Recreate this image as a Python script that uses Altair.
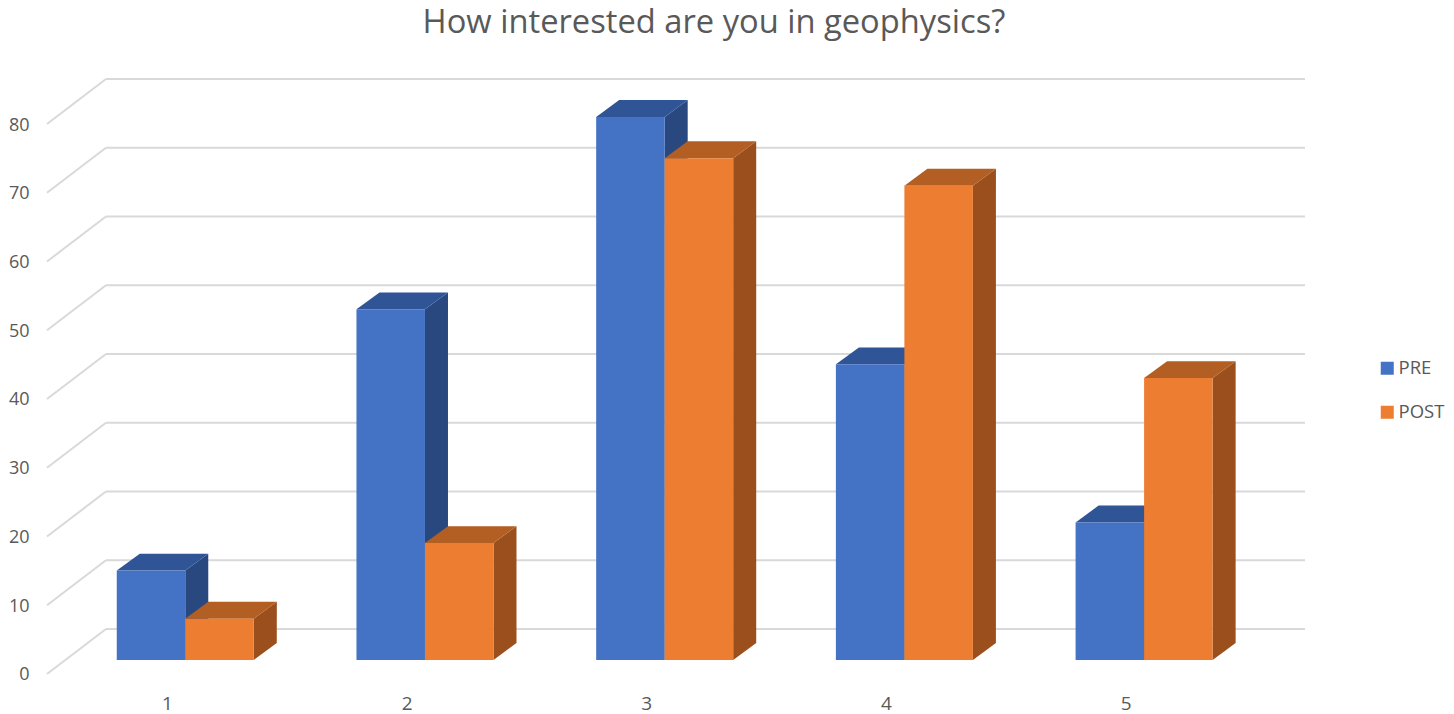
import altair as alt
import pandas as pd

categories = [1, 2, 3, 4, 5]
pre_values = [13, 51, 79, 43, 20]
post_values = [6, 17, 73, 69, 41]
series_names = ["PRE", "POST"]
tick_values = [0, 10, 20, 30, 40, 50, 60, 70, 80]

BLUE, BLUE_TOP, BLUE_SIDE = "#4472C4", "#2F5597", "#2A4880"
ORANGE, ORANGE_TOP, ORANGE_SIDE = "#ED7D31", "#B35E22", "#9A4F1C"
GRID, TEXT = "#D9D9D9", "#595959"
FONT = "Open Sans"

# 3-D projection constants, in data units
BAR_W = 0.2858
BAR_START = -0.209
DEPTH_X = 0.096
DEPTH_Y = 2.47
WALL_X0, WALL_X1, RIGHT = 0.5, 0.746, 5.748
FLOOR_FRONT, FLOOR_BACK = -2.04, 4.51

x_scale = alt.Scale(domain=[0.5, 5.748], nice=False, zero=False)
y_scale = alt.Scale(domain=[-2.04, 84.51], nice=False, zero=False)

grid_df = pd.DataFrame({
    "tick": tick_values,
    "front": [t + FLOOR_FRONT for t in tick_values],
    "back": [t + FLOOR_BACK for t in tick_values],
    "x0": WALL_X0, "x1": WALL_X1, "x2": RIGHT,
})
base_grid = alt.Chart(grid_df)
back_rules = base_grid.mark_rule(color=GRID, strokeWidth=2).encode(
    x=alt.X("x1:Q", scale=x_scale, title=None,
            axis=alt.Axis(values=categories, format="d", domain=False, ticks=False, grid=False,
                          labelFont=FONT, labelFontSize=19, labelColor=TEXT, labelPadding=20)),
    x2="x2:Q",
    y=alt.Y("back:Q", scale=y_scale, title=None,
            axis=alt.Axis(values=tick_values, domain=False, ticks=False, grid=False,
                          labelFont=FONT, labelFontSize=18, labelColor=TEXT,
                          labelPadding=18, labelOffset=15)),
)
wall_rules = base_grid.mark_rule(color=GRID, strokeWidth=2).encode(
    x=alt.X("x0:Q", scale=x_scale), x2="x1:Q",
    y=alt.Y("front:Q", scale=y_scale), y2="back:Q",
)


def faces(values, offset):
    front, top, side = [], [], []
    for c, v in zip(categories, values):
        a = c + BAR_START + offset * BAR_W
        b = a + BAR_W
        front.append({"cat": c, "x": a, "x2": b, "y": v, "y2": 0})
        top += [
            {"cat": c, "x": a, "y": v, "y2": v},
            {"cat": c, "x": a + DEPTH_X, "y": v, "y2": v + DEPTH_Y},
            {"cat": c, "x": b, "y": v, "y2": v + DEPTH_Y},
            {"cat": c, "x": b + DEPTH_X, "y": v + DEPTH_Y, "y2": v + DEPTH_Y},
        ]
        side += [
            {"cat": c, "x": b, "y": 0, "y2": v},
            {"cat": c, "x": b + DEPTH_X, "y": DEPTH_Y, "y2": v + DEPTH_Y},
        ]
    return pd.DataFrame(front), pd.DataFrame(top), pd.DataFrame(side)


def area_layer(df, color):
    return alt.Chart(df).mark_area(color=color, line=False, opacity=1).encode(
        x=alt.X("x:Q", scale=x_scale),
        y=alt.Y("y:Q", scale=y_scale, stack=None),
        y2="y2:Q",
        detail="cat:N",
    )


layers = [back_rules, wall_rules]
spec = [("PRE", pre_values, 0, BLUE_TOP, BLUE_SIDE), ("POST", post_values, 1, ORANGE_TOP, ORANGE_SIDE)]
for name, values, offset, top_c, side_c in spec:
    fr, tp, sd = faces(values, offset)
    fr["series"] = name
    layers.append(area_layer(sd, side_c))
    layers.append(area_layer(tp, top_c))
    layers.append(alt.Chart(fr).mark_rect().encode(
        x=alt.X("x:Q", scale=x_scale),
        x2="x2:Q",
        y=alt.Y("y:Q", scale=y_scale),
        y2="y2:Q",
        color=alt.Color("series:N", scale=alt.Scale(domain=series_names, range=[BLUE, ORANGE]),
                        legend=alt.Legend(title=None, orient="none", legendX=1331, legendY=280,
                                          symbolType="square", symbolSize=169, symbolOpacity=1,
                                          symbolStrokeWidth=0,
                                          labelFont=FONT, labelFontSize=18.5, labelColor=TEXT,
                                          labelOffset=2, rowPadding=25)),
    ))

chart = alt.layer(*layers).properties(
    width=1258, height=595,
    autosize=alt.AutoSizeParams(type="none"),
    padding={"left": 39, "top": 71, "right": 141, "bottom": 41},
    title=alt.Title("How interested are you in geophysics?", font=FONT, fontSize=32.7,
                    fontWeight="normal", color=TEXT, anchor="middle", dx=38, offset=38),
).resolve_scale(x="shared", y="shared").configure_view(stroke=None)

chart.save("out.html", embed_options={"renderer": "svg", "actions": False})
